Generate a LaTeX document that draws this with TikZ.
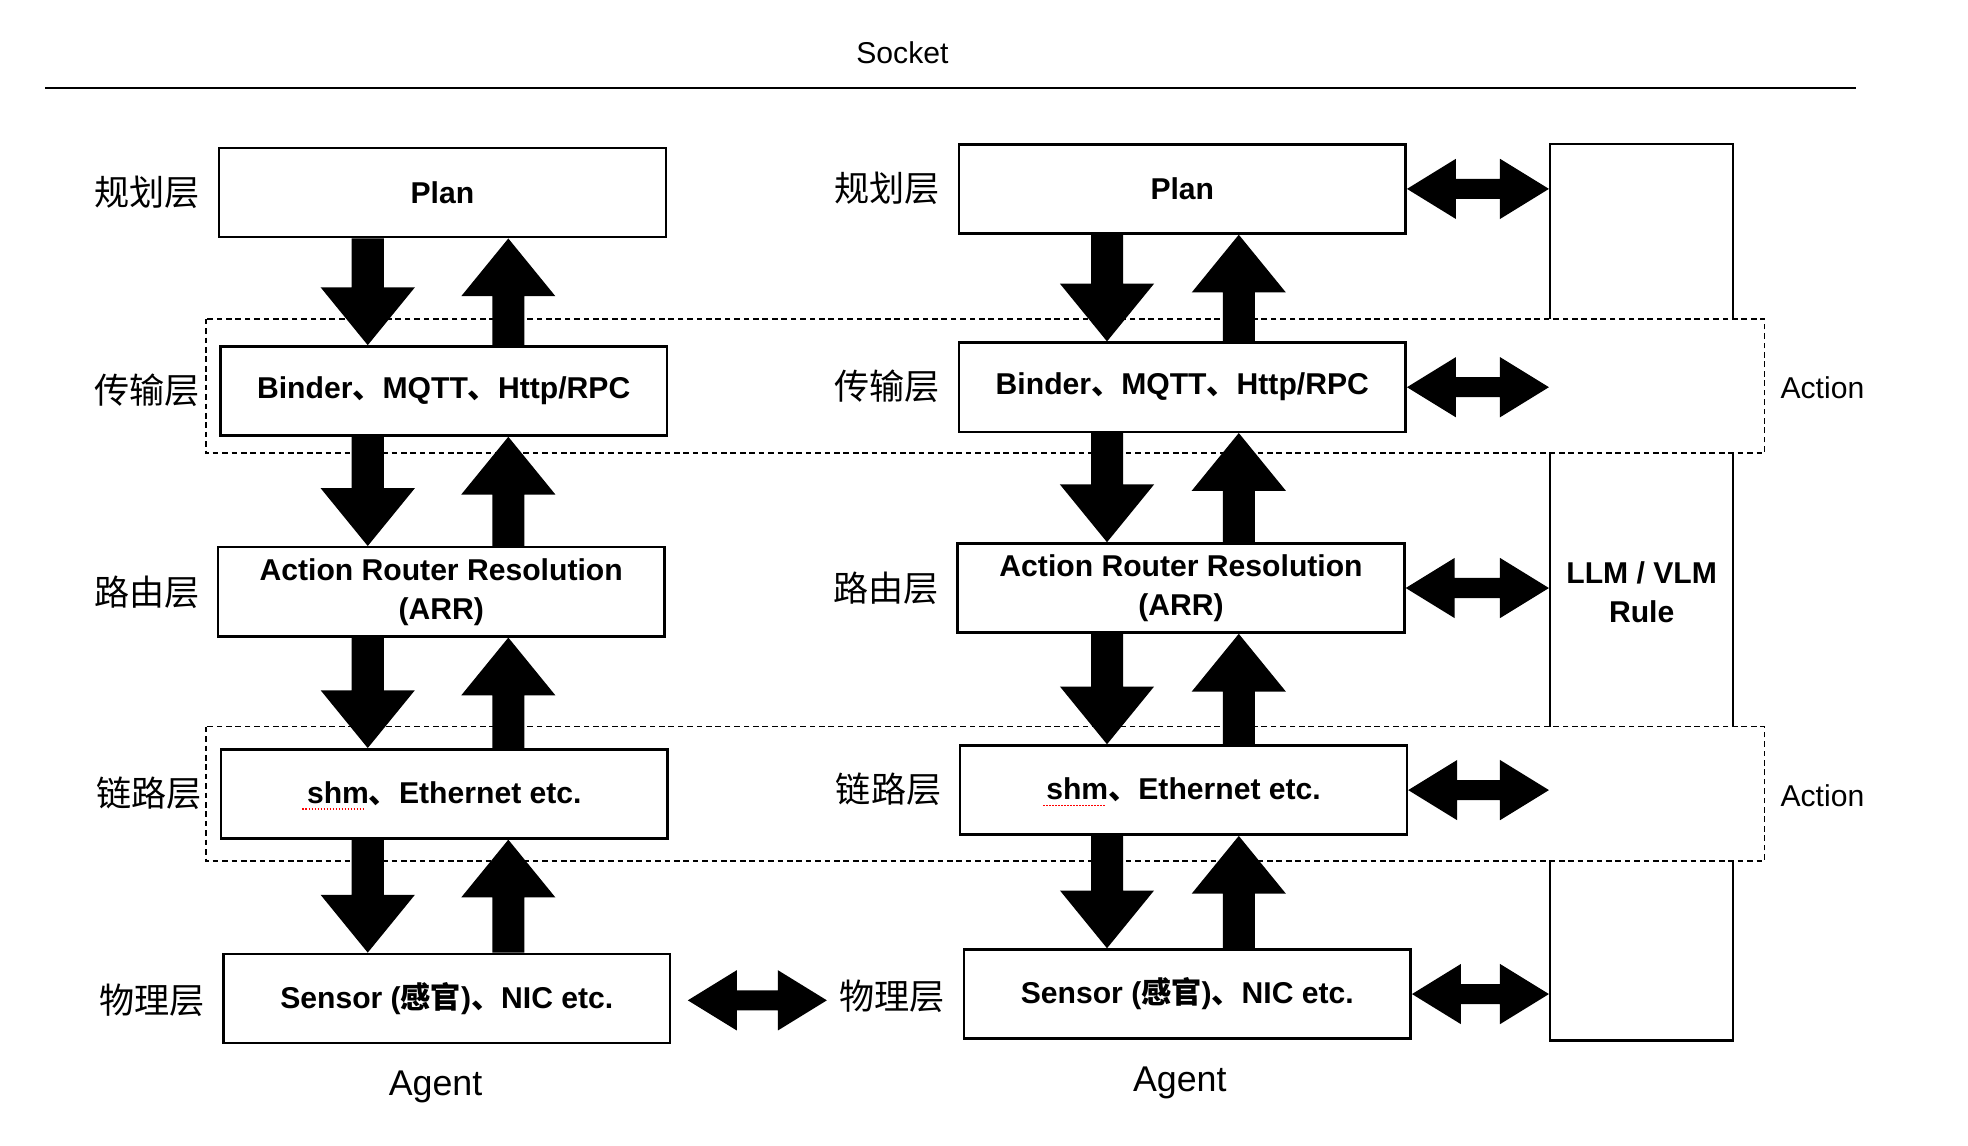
\documentclass[tikz,border=0pt]{standalone}
\usepackage{fontspec}
\setmainfont{Liberation Sans}
\newfontfamily\cjk{Noto Sans CJK SC}
\usetikzlibrary{calc}
\newcommand\boxfont{\fontsize{24}{31}\selectfont\bfseries}
\newcommand\layfont{\fontsize{28}{32}\selectfont\cjk}
\newcommand\plainfont{\fontsize{24}{28}\selectfont}
\newcommand\agentfont{\fontsize{28.5}{32}\selectfont}
\newcommand\dn{{\cjk 、}}
% down block arrow: x, upper node, lower node
\newcommand\arrdown[3]{%
  \path (#1,0 |- #2.south) coordinate (s) (#1,0 |- #3.north) coordinate (e);
  \fill ($(s)+(-12.75,0)$) -- ($(e)+(-12.75,-46)$) -- ($(e)+(-37.5,-46)$) -- (e)
     -- ($(e)+(37.5,-46)$) -- ($(e)+(12.75,-46)$) -- ($(s)+(12.75,0)$) -- cycle;}
% up block arrow: x, lower node, upper node
\newcommand\arrup[3]{%
  \path (#1,0 |- #2.north) coordinate (s) (#1,0 |- #3.south) coordinate (e);
  \fill ($(s)+(-12.75,0)$) -- ($(e)+(-12.75,46)$) -- ($(e)+(-37.5,46)$) -- (e)
     -- ($(e)+(37.5,46)$) -- ($(e)+(12.75,46)$) -- ($(s)+(12.75,0)$) -- cycle;}
% double block arrow between two named coordinates
\newcommand\arrboth[2]{%
  \fill (#1) -- ($(#1)+(39,-24)$) -- ($(#1)+(39,-8)$) -- ($(#2)+(-39,-8)$)
     -- ($(#2)+(-39,-24)$) -- (#2) -- ($(#2)+(-39,24)$) -- ($(#2)+(-39,8)$)
     -- ($(#1)+(39,8)$) -- ($(#1)+(39,24)$) -- cycle;}
\begin{document}
\begin{tikzpicture}[x=1pt,y=-1pt,
  box/.style={draw, line width=2pt, fill=white, minimum width=356pt, minimum height=71pt,
    inner sep=0pt, font=\boxfont, align=center},
  lay/.style={font=\layfont, inner sep=0pt},
  plain/.style={font=\plainfont, inner sep=0pt},
  agent/.style={font=\agentfont, inner sep=0pt},
  layerband/.style={draw, fill=white, line width=1.2pt, dash pattern=on 4.5pt off 3pt},
  squiggle/.style={draw=red, line width=1pt, dash pattern=on 1.2pt off 1.2pt}]
\useasboundingbox (0,0) rectangle (1568,913);
\fill[white] (0,0) rectangle (1568,913);

% title and rule
\node[plain] (socket) at (719,42) {Socket};
\coordinate (ruleL) at (36,70);
\coordinate (ruleR) at (1479,70);
\draw[line width=2pt] (ruleL) -- (ruleR);

% LLM box
\node[draw, line width=1.8pt, minimum width=146pt, minimum height=714pt, inner sep=0pt,
  font=\boxfont, align=center] (llm) at (1308,472) {LLM / VLM\\Rule};

% dashed layer bands
\path[layerband] (164,254) rectangle (1406,361);
\path[layerband] (164,579) rectangle (1406,686);
\node[plain] (act1) at (1452,309) {Action};
\node[plain] (act2) at (1452,634) {Action};

% left agent
\node[box] (plan1) at (352.5,153.5) {Plan};
\node[box] (bind1) at (353.5,311.5) {Binder\dn MQTT\dn Http/RPC};
\node[box] (arr1) at (351.5,471.5) {Action Router Resolution\\(ARR)};
\node[box] (shm1) at (354,632.5) {shm\dn Ethernet etc.};
\node[box] (sen1) at (356,795.5) {Sensor ({\cjk 感官})\dn NIC etc.};
\node[agent] (agent1) at (347,866) {Agent};

\node[lay] (l1a) at (117,153) {规划层};
\node[lay] (l1b) at (117,311) {传输层};
\node[lay] (l1c) at (117,472) {路由层};
\node[lay] (l1d) at (119,632) {链路层};
\node[lay] (l1e) at (121,797) {物理层};

% right agent
\node[box] (plan2) at (942,150.5) {Plan};
\node[box] (bind2) at (942,308.5) {Binder\dn MQTT\dn Http/RPC};
\node[box] (arr2) at (941,468.5) {Action Router Resolution\\(ARR)};
\node[box] (shm2) at (943,629.5) {shm\dn Ethernet etc.};
\node[box] (sen2) at (946,792) {Sensor ({\cjk 感官})\dn NIC etc.};
\node[agent] (agent2) at (940,863) {Agent};

\node[lay] (l2a) at (707,150) {规划层};
\node[lay] (l2b) at (707,308) {传输层};
\node[lay] (l2c) at (706,469) {路由层};
\node[lay] (l2d) at (708,629) {链路层};
\node[lay] (l2e) at (711,794) {物理层};

% spell-check squiggles under "shm"
\draw[squiggle] ($(shm1.center)+(-113,12)$) -- ($(shm1.center)+(-64,12)$);
\draw[squiggle] ($(shm2.center)+(-112,12)$) -- ($(shm2.center)+(-63,12)$);

% vertical arrows, left
\arrdown{293}{plan1}{bind1}
\arrup{405}{bind1}{plan1}
\arrdown{293}{bind1}{arr1}
\arrup{405}{arr1}{bind1}
\arrdown{293}{arr1}{shm1}
\arrup{405}{shm1}{arr1}
\arrdown{293}{shm1}{sen1}
\arrup{405}{sen1}{shm1}

% vertical arrows, right
\arrdown{882}{plan2}{bind2}
\arrup{987}{bind2}{plan2}
\arrdown{882}{bind2}{arr2}
\arrup{987}{arr2}{bind2}
\arrdown{882}{arr2}{shm2}
\arrup{987}{shm2}{arr2}
\arrdown{882}{shm2}{sen2}
\arrup{987}{sen2}{shm2}

% horizontal double arrows to LLM
\coordinate (h1) at (llm.west |- plan2.east);
\coordinate (h2) at (llm.west |- bind2.east);
\coordinate (h3) at (llm.west |- arr2.east);
\coordinate (h4) at (llm.west |- shm2.east);
\coordinate (h5) at (llm.west |- sen2.east);
\arrboth{plan2.east}{h1}
\arrboth{bind2.east}{h2}
\arrboth{arr2.east}{h3}
\arrboth{shm2.east}{h4}
\arrboth{sen2.east}{h5}

% agent-to-agent physical link
\coordinate (p1) at ($(sen1.east)+(13,1.5)$);
\coordinate (p2) at ($(l2e.west)+(-10,3)$);
\arrboth{p1}{p2}
\end{tikzpicture}
\end{document}
